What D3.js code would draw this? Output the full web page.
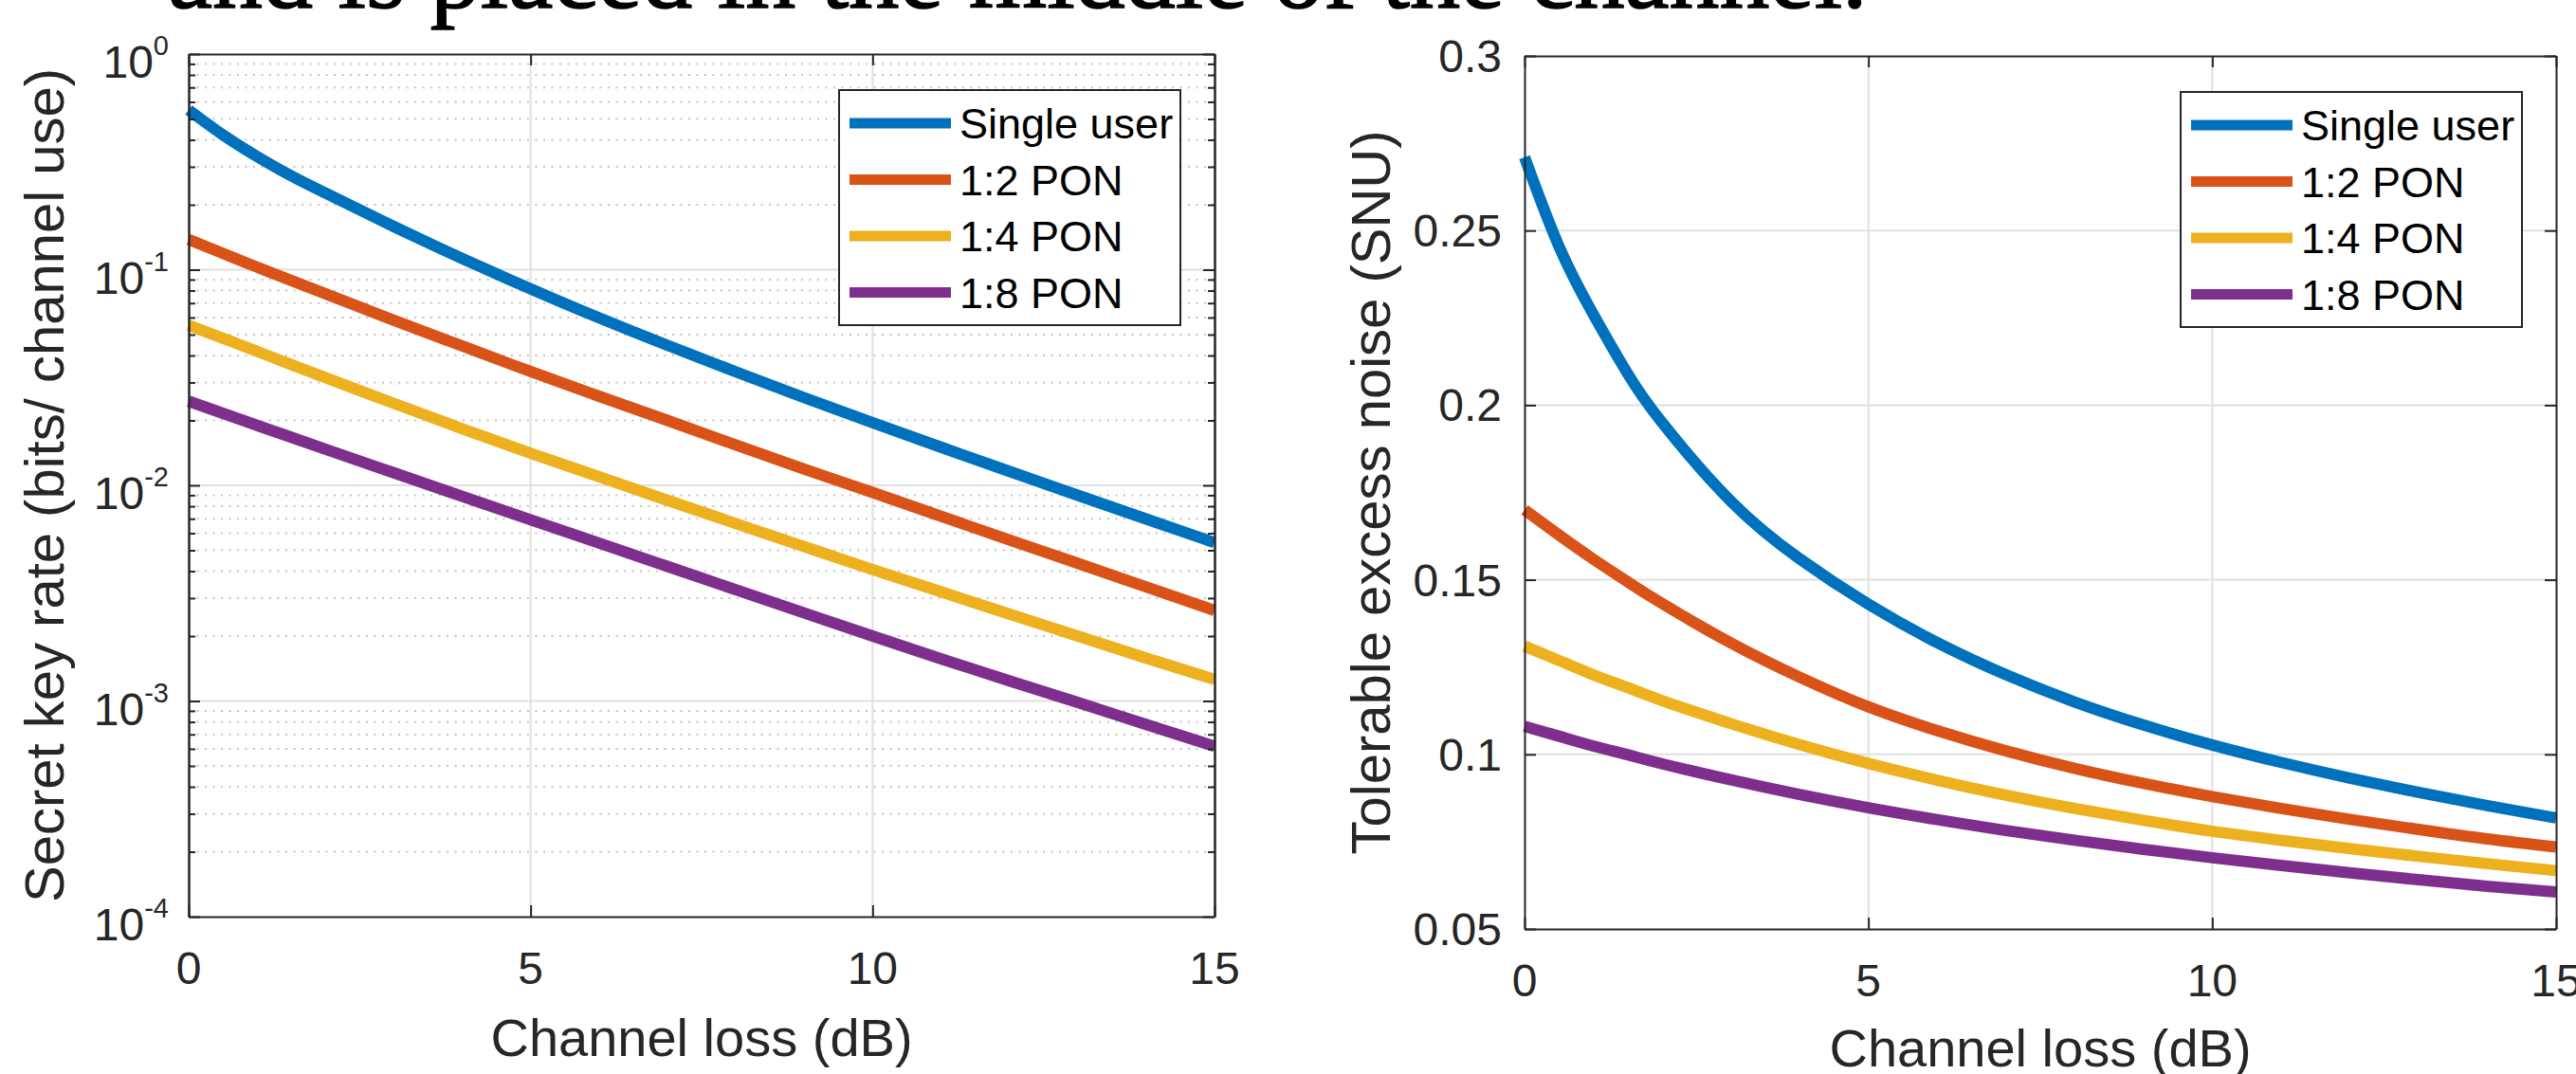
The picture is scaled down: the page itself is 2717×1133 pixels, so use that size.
<!DOCTYPE html>
<html>
<head>
<meta charset="utf-8">
<script src="https://cdn.jsdelivr.net/npm/d3@7"></script>
<style>
  body { margin: 0; background: #fff; }
  svg text { font-family: "Liberation Sans", Arial, sans-serif; }
</style>
</head>
<body>
<script>
// Series names shared by both panels
const seriesNames = ["Single user", "1:2 PON", "1:4 PON", "1:8 PON"];

// Channel loss (dB) sample points
const lossDb = [0, 0.5, 1, 1.5, 2, 3, 4, 5, 6, 7, 8, 9, 10, 11, 12, 13, 14, 15];

// Left panel: secret key rate (bits/ channel use)
const keySingle = [0.550, 0.4217, 0.335, 0.2723, 0.2265, 0.1585, 0.1127, 0.0815, 0.0598, 0.0446, 0.0336, 0.0255, 0.01954, 0.01503, 0.01161, 0.00899, 0.00698, 0.00543];
const key12 = [0.138, 0.119, 0.1028, 0.0891, 0.0773, 0.0583, 0.0443, 0.0337, 0.0259, 0.0200, 0.0154, 0.0119, 0.00927, 0.00719, 0.00558, 0.00435, 0.00338, 0.00263];
const key14 = [0.0553, 0.0481, 0.0418, 0.0363, 0.0316, 0.0240, 0.0183, 0.0141, 0.01096, 0.00853, 0.00665, 0.00520, 0.00407, 0.00321, 0.00253, 0.00200, 0.00158, 0.00126];
const key18 = [0.02455, 0.02158, 0.01897, 0.01671, 0.01472, 0.01143, 0.00889, 0.00692, 0.00540, 0.00421, 0.00328, 0.00256, 0.00200, 0.00157, 0.00124, 0.000984, 0.000778, 0.000617];

// Right panel: tolerable excess noise (SNU)
const noiseSingle = [0.271, 0.2455, 0.226, 0.209, 0.195, 0.1725, 0.156, 0.143, 0.132, 0.1228, 0.115, 0.1084, 0.1027, 0.0977, 0.0932, 0.0891, 0.0853, 0.0818];
const noise12 = [0.170, 0.1628, 0.1559, 0.1494, 0.1432, 0.1319, 0.1221, 0.1136, 0.1068, 0.1010, 0.0960, 0.0917, 0.0879, 0.0845, 0.0814, 0.0785, 0.0758, 0.0735];
const noise14 = [0.131, 0.1269, 0.1228, 0.1191, 0.1154, 0.1088, 0.1028, 0.0974, 0.0926, 0.0883, 0.0845, 0.0811, 0.0780, 0.0754, 0.0730, 0.0708, 0.0687, 0.0667];
const noise18 = [0.108, 0.1052, 0.1024, 0.0999, 0.0973, 0.0927, 0.0885, 0.0847, 0.0813, 0.0782, 0.0754, 0.0728, 0.0704, 0.0682, 0.0661, 0.0641, 0.0622, 0.0606];

// Tick values and labels
const xTicks = [0, 5, 10, 15];
const keyTicks = [1e-4, 1e-3, 1e-2, 1e-1, 1];
const keyTickExp = ["-4", "-3", "-2", "-1", "0"];
const noiseTicks = [0.05, 0.1, 0.15, 0.2, 0.25, 0.3];
const noiseTickLabels = ["0.05", "0.1", "0.15", "0.2", "0.25", "0.3"];

const colors = ["#0072BD", "#D95319", "#EDB120", "#7E2F8E"];
const axisColor = "#262626";

const svg = d3.select("body")
  .append("svg")
  .attr("width", 2717)
  .attr("height", 1133);

// Cropped line of body text from the page above the figure
svg.append("text")
  .attr("x", 177)
  .attr("y", 8)
  .style("font-family", "'Liberation Serif', 'Times New Roman', serif")
  .style("font-size", "106px")
  .style("fill", "#000")
  .style("stroke", "#000")
  .style("stroke-width", 1.5)
  .text("and is placed in the middle of the channel.");

function styleAxis(sel) {
  sel.select(".domain").attr("stroke", axisColor).attr("stroke-width", 2);
  sel.selectAll(".tick line").attr("stroke", axisColor).attr("stroke-width", 2);
  sel.selectAll("text").remove();
}

function drawPanel(cfg) {
  const { left, right, top, bottom } = cfg;
  const g = svg.append("g");

  const x = d3.scaleLinear().domain([0, 15]).range([left, right]);
  const y = cfg.log
    ? d3.scaleLog().domain([1e-4, 1]).range([bottom, top])
    : d3.scaleLinear().domain([0.05, 0.3]).range([bottom, top]);

  // minor grid (log panel only)
  if (cfg.minorTicks) {
    g.selectAll(".minor-grid")
      .data(cfg.minorTicks)
      .join("line")
      .attr("x1", left).attr("x2", right)
      .attr("y1", d => y(d)).attr("y2", d => y(d))
      .attr("stroke", "#c4c4c4")
      .attr("stroke-width", 2)
      .attr("stroke-dasharray", "2,6.5");
  }

  // major grid
  g.selectAll(".grid-y")
    .data(cfg.yTicks.slice(1, -1))
    .join("line")
    .attr("x1", left).attr("x2", right)
    .attr("y1", d => y(d)).attr("y2", d => y(d))
    .attr("stroke", "#e0e0e0")
    .attr("stroke-width", 2);

  g.selectAll(".grid-x")
    .data(xTicks.slice(1, -1))
    .join("line")
    .attr("x1", d => x(d)).attr("x2", d => x(d))
    .attr("y1", top).attr("y2", bottom)
    .attr("stroke", "#e0e0e0")
    .attr("stroke-width", 2);

  // data lines
  const line = d3.line()
    .x((d, i) => x(lossDb[i]))
    .y(d => y(d))
    .curve(d3.curveNatural);

  cfg.series.forEach((vals, i) => {
    g.append("path")
      .datum(vals)
      .attr("d", line)
      .attr("fill", "none")
      .attr("stroke", colors[i])
      .attr("stroke-width", 12)
      .attr("stroke-linejoin", "round");
  });

  // axes with inward ticks on all four sides
  g.append("g").attr("transform", `translate(0,${bottom})`)
    .call(d3.axisBottom(x).tickValues(xTicks).tickSizeInner(-12).tickSizeOuter(0))
    .call(styleAxis);
  g.append("g").attr("transform", `translate(0,${top})`)
    .call(d3.axisTop(x).tickValues(xTicks).tickSizeInner(-12).tickSizeOuter(0))
    .call(styleAxis);
  g.append("g").attr("transform", `translate(${left},0)`)
    .call(d3.axisLeft(y).tickValues(cfg.yTicks).tickSizeInner(-12).tickSizeOuter(0))
    .call(styleAxis);
  g.append("g").attr("transform", `translate(${right},0)`)
    .call(d3.axisRight(y).tickValues(cfg.yTicks).tickSizeInner(-12).tickSizeOuter(0))
    .call(styleAxis);

  if (cfg.minorTicks) {
    g.append("g").attr("transform", `translate(${left},0)`)
      .call(d3.axisLeft(y).tickValues(cfg.minorTicks).tickSizeInner(-7).tickSizeOuter(0))
      .call(styleAxis);
    g.append("g").attr("transform", `translate(${right},0)`)
      .call(d3.axisRight(y).tickValues(cfg.minorTicks).tickSizeInner(-7).tickSizeOuter(0))
      .call(styleAxis);
  }

  // x tick labels
  g.selectAll(".xlab")
    .data(xTicks)
    .join("text")
    .attr("x", d => x(d))
    .attr("y", bottom + 71)
    .attr("text-anchor", "middle")
    .style("font-size", "48px")
    .style("fill", axisColor)
    .text(d => d);

  // y tick labels
  if (cfg.log) {
    const lab = g.selectAll(".ylab")
      .data(cfg.yTicks)
      .join("text")
      .attr("x", left - 21)
      .attr("y", d => y(d) + 25)
      .attr("text-anchor", "end")
      .style("font-size", "48px")
      .style("fill", axisColor)
      .text("10");
    lab.append("tspan")
      .attr("dy", -24)
      .style("font-size", "29px")
      .text((d, i) => keyTickExp[i]);
  } else {
    g.selectAll(".ylab")
      .data(cfg.yTicks)
      .join("text")
      .attr("x", left - 24)
      .attr("y", d => y(d) + 17)
      .attr("text-anchor", "end")
      .style("font-size", "48px")
      .style("fill", axisColor)
      .text((d, i) => noiseTickLabels[i]);
  }

  // axis titles
  g.append("text")
    .attr("x", (left + right) / 2)
    .attr("y", cfg.xLabelY)
    .attr("text-anchor", "middle")
    .style("font-size", "56px")
    .style("fill", axisColor)
    .text("Channel loss (dB)");

  g.append("text")
    .attr("transform", `translate(${cfg.yLabelX},${(top + bottom) / 2}) rotate(-90)`)
    .attr("text-anchor", "middle")
    .style("font-size", "58px")
    .style("fill", axisColor)
    .text(cfg.yLabel);

  // legend (northeast)
  const lw = 360, lh = 248;
  const lx = right - 36 - lw, ly = top + 38;
  const leg = g.append("g").attr("transform", `translate(${lx},${ly})`);
  leg.append("rect")
    .attr("width", lw).attr("height", lh)
    .attr("fill", "#fff")
    .attr("stroke", axisColor)
    .attr("stroke-width", 2);
  const rows = leg.selectAll(".row")
    .data(seriesNames)
    .join("g")
    .attr("transform", (d, i) => `translate(0,${35 + i * 59.5})`);
  rows.append("line")
    .attr("x1", 11).attr("x2", 118)
    .attr("stroke", (d, i) => colors[i])
    .attr("stroke-width", 11);
  rows.append("text")
    .attr("x", 127)
    .attr("y", 16)
    .style("font-size", "45px")
    .style("fill", "#000")
    .text(d => d);
}

// minor ticks for the log axis: 2..9 times each decade
const keyMinor = [];
[1e-4, 1e-3, 1e-2, 1e-1].forEach(dec => {
  for (let m = 2; m <= 9; m++) keyMinor.push(dec * m);
});

drawPanel({
  left: 199, right: 1281, top: 57, bottom: 967,
  log: true,
  yTicks: keyTicks,
  minorTicks: keyMinor,
  series: [keySingle, key12, key14, key18],
  xLabelY: 1114,
  yLabelX: 67,
  yLabel: "Secret key rate (bits/ channel use)"
});

drawPanel({
  left: 1608, right: 2696, top: 59, bottom: 980,
  log: false,
  yTicks: noiseTicks,
  series: [noiseSingle, noise12, noise14, noise18],
  xLabelY: 1125,
  yLabelX: 1466,
  yLabel: "Tolerable excess noise (SNU)"
});
</script>
</body>
</html>
